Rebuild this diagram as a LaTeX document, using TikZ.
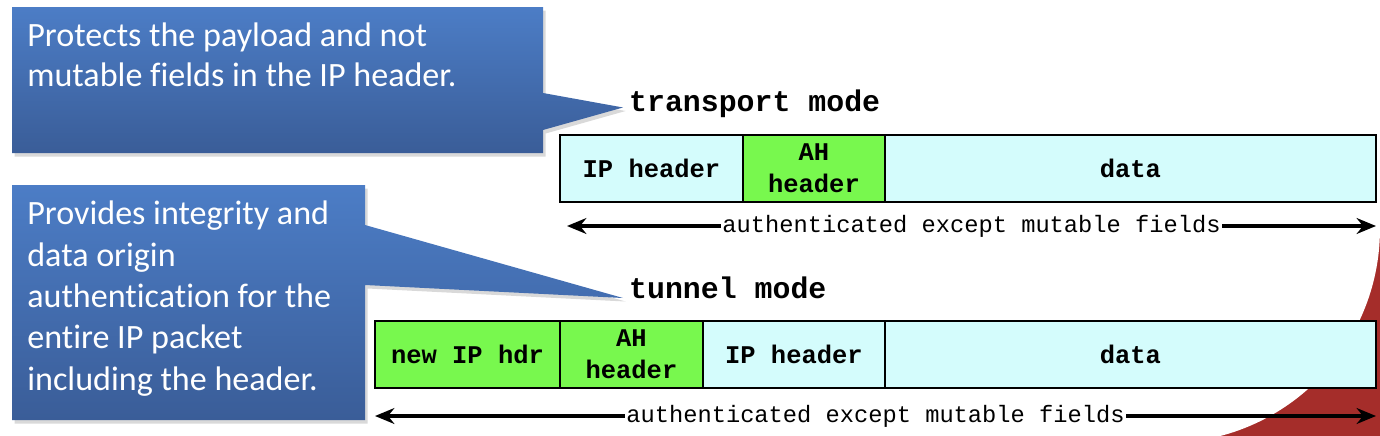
\documentclass[tikz,border=0pt]{standalone}
\usepackage{fontspec}
\setmainfont{Carlito}[Ligatures=NoCommon]
\setmonofont{Liberation Mono}
\usepackage{tikz}
\usetikzlibrary{positioning,arrows.meta,shadows}
\definecolor{calltop}{HTML}{4C7DC6}
\definecolor{callbot}{HTML}{3A5D98}
\definecolor{hdrcyan}{HTML}{D4FCFC}
\definecolor{hdrgreen}{HTML}{78F84E}
\definecolor{cornerred}{HTML}{A52D2A}

\begin{document}
\begin{tikzpicture}[x=0.02cm, y=-0.02cm,
  field/.style={draw=black, line width=1.1pt, minimum height=1.34cm, inner sep=0pt, outer sep=0pt,
    font=\ttfamily\bfseries\fontsize{14.5}{18}\selectfont, align=center},
  ipfield/.style={field, fill=hdrcyan},
  ahfield/.style={field, fill=hdrgreen},
  modelabel/.style={font=\ttfamily\bfseries\fontsize{17}{20}\selectfont, anchor=base west},
  authspan/.style={{Stealth[length=11pt,width=9pt]}-{Stealth[length=11pt,width=9pt]}, line width=1.8pt},
  spanlabel/.style={font=\ttfamily\fontsize{13.5}{16}\selectfont, fill=white, inner sep=1pt},
  calltext/.style={text=white, align=left, anchor=base west, inner sep=0pt},
  callfill/.style={top color=calltop, bottom color=callbot,
    drop shadow={opacity=0.3, shadow xshift=1.5pt, shadow yshift=-2pt}}]
\useasboundingbox (0,0) rectangle (1380,436);

% red corner behind the packets
\begin{scope}
  \clip (1166,229) rectangle (1380,436);
  \fill[cornerred] (1166,229) rectangle (1380,436);
  \fill[white] (1166,229) circle[radius=4.28cm];
\end{scope}

% transport mode
\node[modelabel] (tmode) at (623,111) {transport mode};
\node[ipfield, minimum width=3.66cm, anchor=north west] (tiphdr) at (560,135) {IP header};
\node[ahfield, minimum width=2.84cm, right=0pt of tiphdr] (tahhdr) {AH\\header};
\node[ipfield, minimum width=9.82cm, right=0pt of tahhdr] (tdata) {data};
\coordinate (tleft) at (567,226);
\coordinate (tright) at (1376,226);
\draw[authspan] (tleft) -- node[spanlabel] (tauth) {authenticated except mutable fields} (tright);

% tunnel mode
\node[modelabel] (nmode) at (623,298) {tunnel mode};
\node[ahfield, minimum width=3.7cm, anchor=north west] (nnewhdr) at (375,321) {new IP hdr};
\node[ahfield, minimum width=2.86cm, right=0pt of nnewhdr] (nahhdr) {AH\\header};
\node[ipfield, minimum width=3.64cm, right=0pt of nahhdr] (niphdr) {IP header};
\node[ipfield, minimum width=9.82cm, right=0pt of niphdr] (ndata) {data};
\coordinate (nleft) at (375,416);
\coordinate (nright) at (1376,416);
\draw[authspan] (nleft) -- node[spanlabel] (nauth) {authenticated except mutable fields} (nright);

% callouts (base anchor sits on the last line)
\shade[callfill] (12,7) -- (543,7) -- (543,93) -- ([yshift=2pt]tmode.base west)
  -- (543,130) -- (543,153) -- (12,153) -- cycle;
\node[calltext, font=\fontsize{19.4}{22.3}\selectfont] (tnote) at (27,86)
  {Protects the payload and not\\mutable fields in the IP header.};

\shade[callfill] (12,185) -- (365,185) -- (365,225) -- (nmode.base west)
  -- (365,285) -- (365,420) -- (12,420) -- cycle;
\node[calltext, font=\fontsize{19.4}{23.5}\selectfont] (nnote) at (27,390)
  {Provides integrity and\\data origin\\authentication for the\\entire IP packet\\including the header.};
\end{tikzpicture}
\end{document}
